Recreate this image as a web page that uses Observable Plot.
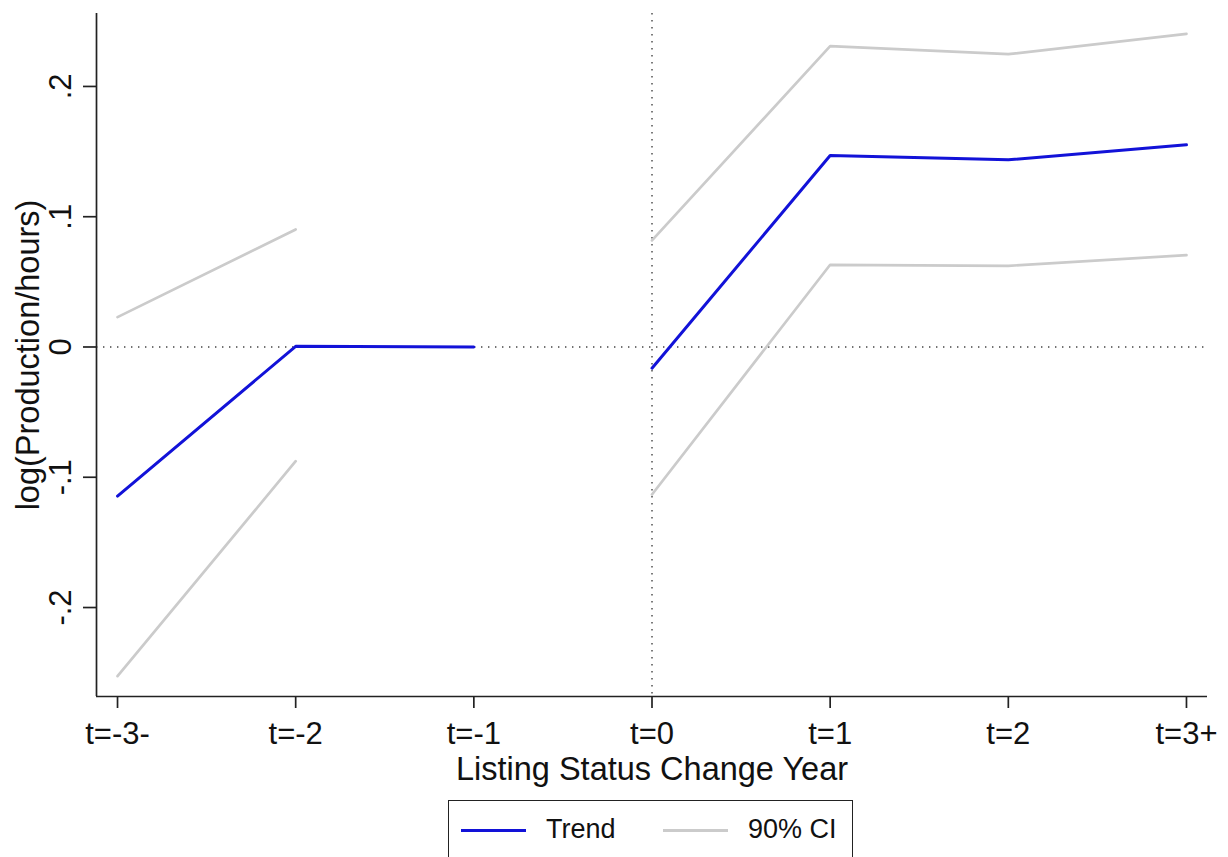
<!DOCTYPE html>
<html>
<head>
<meta charset="utf-8">
<script src="https://cdn.jsdelivr.net/npm/d3@7"></script>
<script src="https://cdn.jsdelivr.net/npm/@observablehq/plot@0.6"></script>
<style>
  html, body { margin: 0; padding: 0; background: #fff; }
  body { position: relative; width: 1228px; height: 857px; overflow: hidden; font-family: "Liberation Sans", Arial, sans-serif; }
  #legend { position: absolute; left: 448px; top: 800px; width: 405px; height: 80px; border: 1.5px solid #222; box-sizing: border-box; }
  .sw { position: absolute; top: 28px; height: 0; border-top: 3px solid; }
  .lt { position: absolute; top: 12px; font-size: 27px; color: #111; line-height: 32px; }
</style>
</head>
<body>
<div id="chart"></div>
<div id="legend">
  <div class="sw" id="sw1" style="left:12px;width:65px;"></div>
  <div class="lt" id="lt1" style="left:97px;"></div>
  <div class="sw" id="sw2" style="left:214px;width:65px;"></div>
  <div class="lt" id="lt2" style="left:299px;"></div>
</div>
<script>
// ---- data ----
const xLabels = ["t=-3-", "t=-2", "t=-1", "t=0", "t=1", "t=2", "t=3+"];
const period  = ["pre", "pre", "pre", "post", "post", "post", "post"];
const trend   = [-0.1145, 0.0005, 0.0, -0.0163, 0.1470, 0.1437, 0.1552];
const ciUpper = [0.0229, 0.0902, null, 0.0818, 0.2309, 0.2248, 0.2404];
const ciLower = [-0.2527, -0.0877, null, -0.1132, 0.0631, 0.0623, 0.0705];
const yTicks = [-0.2, -0.1, 0, 0.1, 0.2];
const yTickLabels = ["-.2", "-.1", "0", ".1", ".2"];
const xTitle = "Listing Status Change Year";
const yTitle = "log(Production/hours)";
const legendLabels = ["Trend", "90% CI"];
const colTrend = "#1212d8";
const colCI = "#cbcbcb";

const rows = xLabels.map((lab, i) => ({x: i, label: lab, period: period[i], trend: trend[i], upper: ciUpper[i], lower: ciLower[i]}));
const xDomain = [-0.118, 6.118];
const yDomain = [-0.2683, 0.256];
const axisColor = "#222";
const font = "'Liberation Sans', Arial, sans-serif";

const chart = Plot.plot({
  width: 1228,
  height: 800,
  marginLeft: 96,
  marginRight: 21,
  marginTop: 13,
  marginBottom: 104,
  style: {fontFamily: font, fontSize: "31px", color: "#111", background: "#fff"},
  x: {type: "linear", domain: xDomain},
  y: {type: "linear", domain: yDomain},
  marks: [
    // reference dotted lines
    Plot.ruleY([0], {stroke: "#444", strokeWidth: 1.4, strokeDasharray: "1.4 5.6"}),
    Plot.ruleX([3], {stroke: "#444", strokeWidth: 1.4, strokeDasharray: "1.4 5.6"}),
    // CI
    Plot.line(rows, {x: "x", y: "upper", z: "period", stroke: colCI, strokeWidth: 2.7}),
    Plot.line(rows, {x: "x", y: "lower", z: "period", stroke: colCI, strokeWidth: 2.7}),
    // trend
    Plot.line(rows, {x: "x", y: "trend", z: "period", stroke: colTrend, strokeWidth: 3}),
    // axes
    Plot.ruleX([xDomain[0]], {stroke: axisColor, strokeWidth: 1.7}),
    Plot.ruleY([yDomain[0]], {stroke: axisColor, strokeWidth: 1.7}),
    Plot.axisX({ticks: rows.map(d => d.x), tickFormat: i => xLabels[i], tickSize: 12, tickPadding: 13, stroke: axisColor, strokeWidth: 1.7, fontSize: 31, label: null, fill: "#111"}),
    Plot.axisY({ticks: yTicks, tickFormat: () => "", tickSize: 13, stroke: axisColor, strokeWidth: 1.7, label: null}),
    Plot.text(yTicks, {y: d => d, frameAnchor: "left", dx: -35, rotate: -90, text: (d, i) => yTickLabels[i], lineAnchor: "middle", textAnchor: "middle", fontSize: 31, fill: "#111"}),
    // titles
    Plot.text([xTitle], {frameAnchor: "bottom", dy: 73, text: d => d, lineAnchor: "middle", textAnchor: "middle", fontSize: 32.5, fill: "#111"}),
    Plot.text([yTitle], {frameAnchor: "left", dx: -68, rotate: -90, text: d => d, lineAnchor: "middle", textAnchor: "middle", fontSize: 32.5, fill: "#111"})
  ]
});
document.getElementById("chart").appendChild(chart);

document.getElementById("sw1").style.borderTopColor = colTrend;
document.getElementById("sw2").style.borderTopColor = colCI;
document.getElementById("lt1").textContent = legendLabels[0];
document.getElementById("lt2").textContent = legendLabels[1];
</script>
</body>
</html>
